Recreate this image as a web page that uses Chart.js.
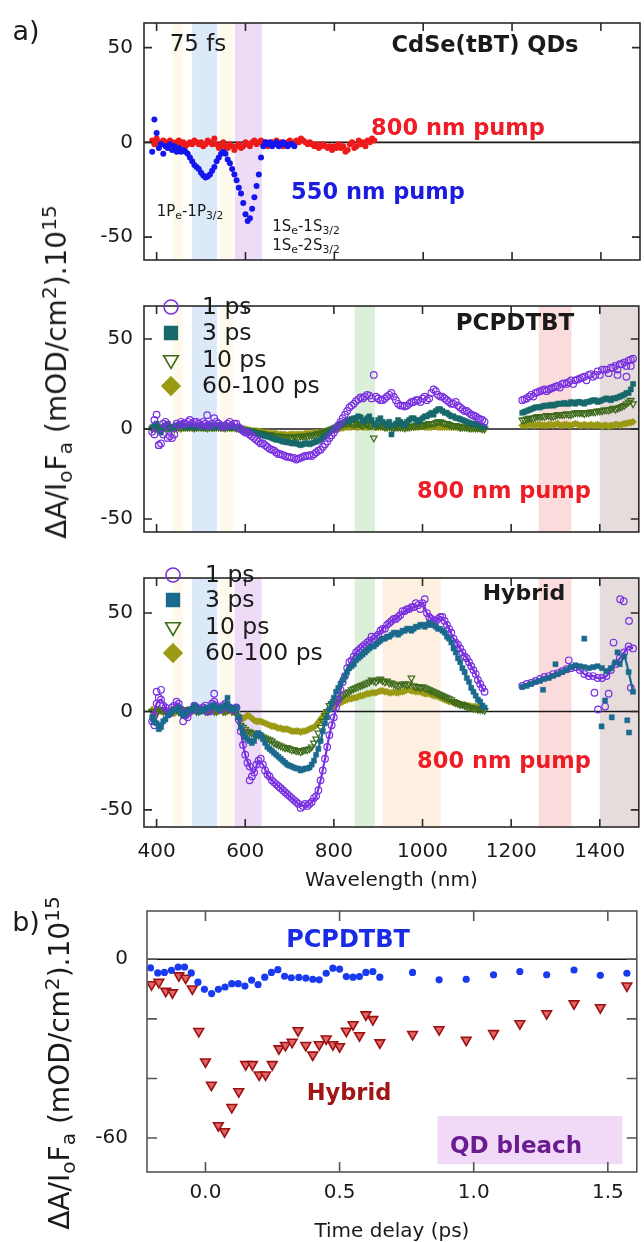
<!DOCTYPE html>
<html><head><meta charset="utf-8">
<script src="https://cdn.jsdelivr.net/npm/chart.js@4.4.1/dist/chart.umd.min.js"></script>
<style>
html,body{margin:0;padding:0;background:#fff;}
#wrap{position:relative;width:644px;height:1242px;overflow:hidden;background:#fff;font-family:'DejaVu Sans',sans-serif;color:#1a1a1a}
canvas{position:absolute;left:0}
.t{position:absolute;transform:translate(-50%,-50%);white-space:nowrap;line-height:1}
.l{position:absolute;transform:translate(0,-50%);white-space:nowrap;line-height:1;font-size:23.5px}
.b{font-weight:bold}
.yt{position:absolute;transform:translate(-50%,-50%) rotate(-90deg);white-space:nowrap;line-height:1;font-size:28px}
sub,sup{font-size:72%;line-height:0;position:relative;vertical-align:baseline}
sub{top:0.3em} sup{top:-0.5em}
.red{color:#ee1c24}.blue{color:#1c1ce0}
</style></head><body>
<div id="wrap">
<canvas id="c1" width="644" height="283" style="top:0"></canvas>
<canvas id="c2" width="644" height="272" style="top:283px"></canvas>
<canvas id="c3" width="644" height="336" style="top:555px"></canvas>
<canvas id="c4" width="644" height="362" style="top:880px"></canvas>

<div class="t" style="left:26px;top:30px;font-size:27px">a)</div>
<div class="t" style="left:26px;top:921px;font-size:27px">b)</div>
<div class="yt" style="left:57px;top:372px">ΔA/I<sub>o</sub>F<sub>a</sub> (mOD/cm<sup>2</sup>).10<sup>15</sup></div>
<div class="yt" style="left:60px;top:1063px">ΔA/I<sub>o</sub>F<sub>a</sub> (mOD/cm<sup>2</sup>).10<sup>15</sup></div>

<div class="t" style="left:198px;top:43px;font-size:23px">75 fs</div>
<div class="t b" style="left:485px;top:44px;font-size:22.5px">CdSe(tBT) QDs</div>
<div class="t b red" style="left:458px;top:127px;font-size:22.5px">800 nm pump</div>
<div class="t b blue" style="left:378px;top:191px;font-size:22.5px">550 nm pump</div>
<div class="t" style="left:190px;top:211px;font-size:15px">1P<sub>e</sub>-1P<sub>3/2</sub></div>
<div class="t" style="left:306px;top:226px;font-size:15px">1S<sub>e</sub>-1S<sub>3/2</sub></div>
<div class="t" style="left:306px;top:245px;font-size:15px">1S<sub>e</sub>-2S<sub>3/2</sub></div>

<div class="t b" style="left:515px;top:322px;font-size:23px">PCPDTBT</div>
<div class="t b red" style="left:504px;top:490px;font-size:22.5px">800 nm pump</div>
<div class="l" style="left:202px;top:307px">1 ps</div>
<div class="l" style="left:202px;top:333px">3 ps</div>
<div class="l" style="left:202px;top:360px">10 ps</div>
<div class="l" style="left:202px;top:386px">60-100 ps</div>

<div class="t b" style="left:524px;top:593px;font-size:22px">Hybrid</div>
<div class="t b red" style="left:504px;top:760px;font-size:22.5px">800 nm pump</div>
<div class="l" style="left:205px;top:575px">1 ps</div>
<div class="l" style="left:205px;top:600px">3 ps</div>
<div class="l" style="left:205px;top:627px">10 ps</div>
<div class="l" style="left:205px;top:653px">60-100 ps</div>

<div class="t b" style="left:348px;top:939px;font-size:24px;color:#1a2be6">PCPDTBT</div>
<div class="t b" style="left:349px;top:1092px;font-size:22.5px;color:#a01515">Hybrid</div>
<div class="t b" style="left:516px;top:1145px;font-size:23px;color:#6a1b8f">QD bleach</div>
</div>
<script>
// ---------------- DATA ----------------
const WL_TICKS = [400, 600, 800, 1000, 1200, 1400];
const A_Y_TICKS = [-50, 0, 50];
const T_TICKS = [0, 0.5, 1.0, 1.5];
const B_Y_TICKS = [-60, -40, -20, 0];

// shaded wavelength bands (nm)
const BAND_CREAM1 = [436, 460];
const BAND_CREAM2 = [543, 572];
const BAND_BLUE = [480, 536];
const BAND_PURPLE = [576, 637];
const BAND_GREEN = [847, 893];
const BAND_ORANGE = [910, 1041];
const BAND_RED = [1262, 1336];
const BAND_BROWN = [1400, 1500];
// QD bleach box (time ps, value)
const QD_BOX_T = [0.865, 1.554];
const QD_BOX_V = [-68.8, -52.6];

// Top panel: CdSe(tBT) QDs, 75 fs
const QD550_WL = [390,395,400,405,410,415,420,425,430,435,440,445,450,455,460,465,470,475,480,485,490,495,500,505,510,515,520,525,530,535,540,545,550,555,560,565,570,575,580,585,590,595,600,605,610,615,620,625,630,635,640,645,650,655,660,665,670,675,680,685,690,695,700,705,710];
const QD550 = [-5,12,5,-3,-1,-6,-2,-3,-1,-4,
  -2,-5,-3,-5,-4,-5,-6,-8,-10,-12,
  -13,-14,-16,-17.5,-18.5,-18,-17,-15,-13,-10,
  -8,-6,-5,-6,-9,-11,-14,-17,-20,-24,
  -27,-32,-38,-41.5,-40,-35,-29,-23,-17,-8,
  -2,0,-1,0,-2,-1,0,-2,-1,0,
  -1,-2,-1,-1,-2];
const QD800_WL = [390,395,400,405,410,415,420,425,430,435,440,445,450,455,460,465,470,475,480,485,490,495,500,505,510,515,520,525,530,535,540,545,550,555,560,565,570,575,580,585,590,595,600,605,610,615,620,625,630,635,640,645,650,655,660,665,670,675,680,685,690,695,700,705,710,715,720,725,730,735,740,745,750,755,760,765,770,775,780,785,790,795,800,805,810,815,820,825,830,835,840,845,850,855,860,865,870,875,880,885,890];
const QD800 = [1,-1,2,0,-1,1,0,-2,1,0,
  -1,0,1,-1,0,-2,-1,0,-1,1,
  0,-1,0,-2,-1,1,0,-1,2,-1,
  -3,-2,0,-2,-3,-1,-2,-4,-2,-1,
  -3,-2,0,-1,-2,0,1,-1,0,1,
  -1,0,-2,-1,0,-1,1,-1,0,-2,
  -1,0,1,-1,0,1,0,2,1,0,
  -1,0,-1,-2,-1,-3,-2,-1,-2,-3,
  -2,-4,-2,-3,-1,-3,-2,-5,-4,-1,
  0,-3,-2,1,-1,0,-2,1,0,2,
  1];

// Wavelength grids for PCPDTBT / Hybrid
const WL_VIS = [390,400,410,420,430,440,450,460,470,480,490,500,510,520,530,540,550,560,570,580,590,600,610,620,630,640,650,660,670,680,690,700,710,720,730,740,750,760,770,780,790,800,810,820,830,840,850,860,870,880,890,900,910,920,930,940,950,960,970,980,990,1000,1010,1020,1030,1040,1050,1060,1070,1080,1090,1100,1110,1120,1130,1140];
const WL_VIS2 = [395,405,415,425,435,445,455,465,475,485,495,505,515,525,535,545,555,565,575,585,595,605,615,625,635,645,655,665,675,685,695,705,715,725,735,745,755,765,775,785,795,805,815,825,835,845,855,865,875,885,895,905,915,925,935,945,955,965,975,985,995,1005,1015,1025,1035,1045,1055,1065,1075,1085,1095,1105,1115,1125,1135];
const WL_IR = [1225,1235,1245,1255,1265,1275,1285,1295,1305,1315,1325,1335,1345,1355,1365,1375,1385,1395,1405,1415,1425,1435,1445,1455,1465,1475];
const WL_IR2 = [1230,1240,1250,1260,1270,1280,1290,1300,1310,1320,1330,1340,1350,1360,1370,1380,1390,1400,1410,1420,1430,1440,1450,1460,1470];

// PCPDTBT, 800 nm pump
const PC_1PS_VIS = [-1.5,8,-8,4,-4,-3,2,3,4,3, 4,2,3,2,6,3,1,3,2,3, 0,-2,-3,-5,-7,-8,-10,-11.5,-13,-14, -15,-15.5,-16,-16.5,-15.5,-15,-15,-13,-11.5,-8.5, -5,-2,2,6,10,13,15.5,17.5,18,18.5, 30,17,16,18,20,16,13,12.5,14,15, 16,17,16,20,21,18,17,15,14,13, 11,10,8,7,5.5,4];
const PC_1PS_VIS2 = [5,-9,-3,2,-5,3,4,3,5,4, 3,4,2,3,4,2,2,4,3,1, -1,-2,-4,-6,-8,-9,-11,-12,-14,-14.5, -15.5,-16,-17,-16,-15,-14.5,-14,-12,-10,-7, -3.5,0,4,8,12,14,16.5,17,19,17, 18,16,17,19,18,14,13,13,15,16, 15,18,17,22,19,18,16,14,15,12, 10,9,7.5,6,5];
const PC_1PS_IR = [16,17,19,20,21,22,22,23,24,25,25,27,27,28,29,30,29,32,33,33,34,35,36,37,38,39];
const PC_1PS_IR2 = [16.5,18,18,20.5,21.5,21,22.5,23.5,23,25.5,26,25,27.5,28.5,27,30.5,30,30,33,31,34,33,36,35,38.5];
const PC_1PS_XW = [395,405,415,425,514,1440,1460,1470];
const PC_1PS_XV = [-3,-9,3,-5,7.7,30,29,35];
const PC_3PS_VIS = [1,3,-2,2,0,1,2,2,1,2, 1,2,1,2,1,2,1,1,2,1, 0,-1,-1.5,-2,-3,-3.5,-4,-5,-6,-6.5, -7,-7.5,-8,-8.5,-8.5,-8,-8,-7,-6,-4, -2,0,2,3.5,5,5.5,6,6.5,5,7, 3,5,4,2,-3,3,4,2,5,6, 4,6,7,9,10,11,9,8,7,6, 5,4,3,2.5,2,1];
const PC_3PS_VIS2 = [2,0,1,3,1,2,3,1,2,1, 2,1,2,1,2,1,2,1,1,0.5, -0.5,-1,-2,-2.5,-3,-4,-4.5,-5.5,-6,-7, -7.5,-8,-8,-9,-8,-8.5,-7.5,-6.5,-5,-3, -1,1,3,4,4.5,6,7,4,6,5, 2,6,3,4,2,5,3,4,6,5, 5,7,8,8,11,10,9,7,6,5.5, 4.5,3.5,3,2,1.5];
const PC_3PS_IR = [9,10,11,12,12,13,13,13,14,14,14,15,14,15,14,15,16,15,16,17,16,17,18,19,20,25];
const PC_3PS_IR2 = [9.5,10.5,11.5,12,12.5,13,13.5,13.5,14,14.5,14,14.5,15,14.5,15,15.5,16,15.5,16.5,16.5,17,17.5,18.5,20,22];
const PC_10PS_VIS = [0,1,0,1,1,0,1,1,1,1, 1,1,1,1,1,1,1,1,1,0.5, 0,-0.5,-1,-1.5,-2,-2.5,-3,-3.5,-4,-4, -4.5,-4.5,-4.5,-4.5,-4,-4,-3.5,-3,-2.5,-1.5, -0.5,0.5,1.5,2.5,3,3,3,2.5,3,2, -5,2,1.5,1,1,1,1,0.5,1,1.5, 2,2,2.5,3,3.5,4,3,2.5,2,1.5, 1,1,0.5,0.5,0.5,0];
const PC_10PS_VIS2 = [0.5,0,1,0.5,1,1,0.5,1,1,0.5, 1,1,0.5,1,1,1,0.5,1,1,0.5, -0.5,-1,-1,-2,-2.5,-3,-3,-4,-4,-4.5, -4.5,-5,-4.5,-4,-4,-3.5,-3.5,-2.5,-2,-1, 0,1,2,3,3.5,2.5,3,2,2.5,2, 1.5,2,1,1.5,0.5,1,1,1,1.5,2, 2,2.5,3,3,4,3.5,3,2,2,1, 1,0.5,0.5,0.5,0];
const PC_10PS_IR = [5,5.5,6,6.5,7,7,7.5,7,8,8,8.5,8,9,9,8.5,9,9.5,10,10,10.5,11,11,12,13,15,14];
const PC_10PS_IR2 = [5,6,6,7,7,7.5,7,7.5,8,8,8,8.5,9,9,9,9.5,9.5,10,10.5,10.5,11.5,11.5,12.5,14,16];
const PC_60PS_VIS = [0.5,1,0,1,0.5,1,0.5,1,0.5,1, 0.5,1,0.5,1,0.5,1,0.5,1,0.5,0.5, 0,0,-0.5,-1,-1.5,-2,-2,-2.5,-2.5,-3, -3,-3,-3,-3,-3,-2.5,-2.5,-2,-2,-1.5, -1,-0.5,0,0.5,1,1,1,1.5,1,1, 1,1,1,1.5,1,1,1,1,1.5,1, 1,1.5,1,1,1.5,1,1,1,1,1, 1,0.5,1,0.5,0.5,0.5];
const PC_60PS_VIS2 = [0,1,0.5,0,1,0.5,1,0.5,1,0.5, 1,0.5,1,0.5,1,0.5,1,0.5,1,0, 0,-0.5,-1,-1,-1.5,-2,-2.5,-2.5,-3,-3, -3.5,-3,-3,-3,-2.5,-2.5,-2,-2,-1.5,-1, -0.5,0,0.5,1,1,1.5,1,1,1,1.5, 1,1,1.5,1,1,1,1.5,1,1,1, 1.5,1,1,1.5,1,1,1,1,1,0.5, 1,1,0.5,0.5,0.5];
const PC_60PS_IR = [2,2,2.5,2,2.5,2,2.5,2,3,2,2.5,2,3,2,2.5,2,2,2.5,1.5,2,2,2.5,2,3,3.5,4];
const PC_60PS_IR2 = [2,2.5,2,2.5,2,2,2.5,2.5,2,2.5,2,2.5,2.5,2,2,2.5,2,2,2,1.5,2,2.5,2.5,3,3.5];

// Hybrid, 800 nm pump
const HY_1PS_VIS = [-5,4,6,2,-1,3,4,-1,-3,1, 2,1,3,0,5,2,3,2,1,2, -10,-22,-28,-31,-25,-27,-32,-35,-37,-39, -41,-43,-45,-47,-48,-48,-46,-43,-35,-24, -12,-3,6,15,22,26,30,32,34,36, 37,39,42,44,46,47,49,51,52,53, 54,55,50,47,46,48,46,42,37,34, 30,27,23,19,14,10];
const HY_1PS_VIS2 = [-2,7,3,0,2,5,1,-2,0,3, 1,2,0,4,3,1,4,2,1,-4, -17,-26,-33,-27,-24,-30,-33,-36,-38,-40, -42,-44,-46,-49,-47,-47,-44,-40,-30,-18, -7,2,11,18,25,28,31,33,35,38, 38,41,42,45,47,48,51,52,53,55, 52,57,48,46,47,48,44,40,35,32, 28,25,21,16,12];
const HY_1PS_IR = [13,14,14.5,15.5,16.5,17.5,18,19,19.5,20.5,21.5,22,22.5,21,19,18,18,17,17,18,21,24,27,30,33,32];
const HY_1PS_XW = [395,400,410,460,530,610,1330,1388,1396,1412,1420,1431,1446,1454,1466,1470];
const HY_1PS_XV = [-7,10,11,-5,9,-35,26,9.5,1,2.5,9,35,57,56,46,12];
const HY_3PS_VIS = [-3,-6,-8,-4,-1,1,2,-2,0,1, 2,0,1,2,3,1,2,4,1,2, -8,-13,-15,-15,-11,-14,-18,-20,-22,-24, -26,-27.5,-28.5,-29,-29.5,-29,-27,-22,-15,-6, 1,7,12,16,20,23,26,28,30,32, 33,35,37,38,39,40,40,41,42,42, 43,44,44,44,43,42,40,37,32,27, 22,17,12,8,5,2];
const HY_3PS_VIS2 = [-5,-7,-5,-2,0,1,-1,-1,1,3, 0,1,2,3,2,2,3,2,1,-3, -11,-14,-16,-12,-12,-16,-19,-21,-23,-25, -27,-28,-29,-30,-29,-28.5,-25,-19,-10,-3, 4,10,14,18,22,24,27,29,31,33, 34,36,37,38,40,39,41,42,41,43, 44,43,45,44,42,41,38,35,30,25, 20,15,10,6,3];
const HY_3PS_IR = [12.5,13,14,15,15.5,16.5,17,18,19,20,21,22.5,23.5,23,22.5,22,22.5,23,22,20.5,22,25,24,28,20,10];
const HY_3PS_XW = [392,405,560,1272,1300,1365,1404,1412,1427,1440,1462,1466];
const HY_3PS_XV = [-4,-9,7,11,24,37,-7.6,5.6,-3,30,-4.5,-10.7];
const HY_10PS_VIS = [0,-1,1,0,-1,1,0,1,0,1, 0,1,0,1,0,1,0,1,0,1, -7,-9,-10.5,-11.5,-12,-13,-14,-15,-16.5,-17.5, -18.5,-19,-19.5,-20,-20,-19.5,-18,-14,-8,-2, 3,5,6.5,8,9.5,11,12,13,14,15, 15.5,16,15.5,15.5,14.5,13.5,13.5,14,14,13, 12.5,12.5,11.5,10.5,9.5,8.5,7.5,6.5,5,4, 3.5,2.5,2,1.5,1,0.5];
const HY_10PS_VIS2 = [0,1,0,-1,0,1,0,1,0,1, 0,1,0,1,0,1,0,1,0,-3, -8,-10,-11,-12,-12.5,-13.5,-14.5,-16,-17,-18, -18.5,-19.5,-20,-20.5,-19.5,-19,-16,-11,-5,0, 4,6,7,9,10,11.5,12.5,13.5,14.5,16, 15,16.5,15,14.5,14,13,14,13.5,17,12.5, 12,12,11,10,9,8,7,6,4.5,3.5, 3,2,1.5,1,1];
const HY_60PS_VIS = [1,-1,0,1,0,-1,1,0,1,0, 1,0,1,0,1,0,1,0,1,0, -4,-3,-2.5,-4.5,-5,-5.5,-6.5,-7.5,-8,-8.5, -9,-9.5,-10,-10,-10,-9.5,-8.5,-7,-4,-1, 1.5,2.5,4,5,6,6.5,7,8,8.5,9, 9.5,10,10.5,10,9.5,9.5,10,10.5,11,10.5, 10,9.5,9,8.5,8,7,6,5,4.5,4, 3.5,3,2.5,2.5,2,1.5];
const HY_60PS_VIS2 = [0,1,0,-1,1,0,1,0,-1,1, 0,1,0,1,0,1,0,1,0,-2, -3.5,-2,-3.5,-5,-5,-6,-7,-7.5,-8.5,-9, -9,-10,-10,-10.5,-10,-9,-8,-5.5,-2.5,0, 2,3.5,4.5,5.5,6.5,7,7.5,8,9,9.5, 9.5,10.5,10,9.5,10,9.5,10,11,10.5,10, 10,9,9,8,7.5,6.5,5.5,5,4,3.5, 3.5,3,2.5,2,1.5];

// Panel b: kinetics at QD bleach
const T_PCPDTBT = [-0.205,-0.178,-0.153,-0.127,-0.102,-0.078,-0.053,-0.028,-0.004,0.023,0.048,0.073,0.098,0.122,0.147,0.172,0.196,0.221,0.246,0.27,0.295,0.32,0.348,0.374,0.4,0.424,0.45,0.475,0.5,0.525,0.55,0.574,0.598,0.624,0.65,0.772,0.871,0.972,1.074,1.172,1.272,1.374,1.472,1.571];
const V_PCPDTBT = [-2.9,-4.6,-4.4,-3.7,-2.6,-2.6,-4.6,-7.7,-10.1,-11.5,-10.1,-9.3,-8.2,-8.2,-9,-7,-8.5,-6,-4.4,-3.5,-5.7,-6.2,-6.1,-6.3,-6.7,-6.9,-4.7,-3,-3.3,-5.8,-6,-5.8,-4.4,-4.1,-6,-4.4,-6.9,-6.7,-5.2,-4.1,-5.2,-3.6,-5.4,-4.7];
const T_HYBRID = [-0.201,-0.174,-0.148,-0.123,-0.099,-0.074,-0.049,-0.025,0.0,0.022,0.048,0.071,0.098,0.124,0.150,0.175,0.2,0.224,0.249,0.274,0.298,0.323,0.345,0.374,0.4,0.424,0.45,0.475,0.5,0.525,0.55,0.574,0.598,0.624,0.65,0.772,0.871,0.972,1.074,1.172,1.272,1.374,1.472,1.571];
const V_HYBRID = [-8.5,-7.7,-10.7,-11.2,-5.5,-6.3,-9.9,-24.2,-34.4,-42.2,-55.8,-57.8,-49.7,-44.4,-35.3,-35.3,-38.8,-38.8,-35.3,-30,-28.9,-27.8,-23.9,-28.9,-32.1,-28.6,-26.7,-28.6,-29.3,-24.1,-21.9,-25.6,-18.6,-20.2,-28,-25.2,-23.6,-27.1,-24.9,-21.6,-18.2,-14.9,-16.2,-8.9];

// ---------------- STYLE / HELPERS ----------------
const FONT = "'DejaVu Sans', sans-serif";
Chart.defaults.font.family = FONT;
Chart.defaults.color = '#1a1a1a';
const PURPLE = '#7a30e0', TEAL2 = '#17696b', TEAL3 = '#1b6a8e', GREEN = '#3d6a1b', OLIVE = '#9a9a14';
const C_CREAM = '#fdfaeb', C_BLUE = '#dce9f9', C_PURPLE = '#eedcf7', C_GREEN = '#dcefdb', C_ORANGE = '#fdf0e1', C_RED = '#fbdcdc', C_BROWN = '#e7dcdc';

function pts(xs, ys){ return xs.map((x,i)=>({x:x, y:ys[i]})); }
function joinGap(a, b){ return a.concat([{x:(a[a.length-1].x + b[0].x)/2, y:null}], b); }

function drawMarker(ctx, style, x, y, r, color, fill, lw){
  ctx.beginPath();
  if(style==='circle') ctx.arc(x,y,r,0,Math.PI*2);
  else if(style==='rect'){ const s=r*Math.SQRT1_2; ctx.rect(x-s,y-s,2*s,2*s); }
  else if(style==='tri'){ ctx.moveTo(x-r*0.866,y-r*0.5); ctx.lineTo(x+r*0.866,y-r*0.5); ctx.lineTo(x,y+r); ctx.closePath(); }
  else if(style==='diamond'){ ctx.moveTo(x,y-r); ctx.lineTo(x+r,y); ctx.lineTo(x,y+r); ctx.lineTo(x-r,y); ctx.closePath(); }
  if(fill){ ctx.fillStyle=color; ctx.fill(); }
  ctx.strokeStyle=color; ctx.lineWidth=lw; ctx.stroke();
}

function makeFrame(cfg){
  return {
    id: 'frame_' + cfg.name,
    beforeDatasetsDraw(chart){
      const {ctx, chartArea:a} = chart; const x = chart.scales.x, y = chart.scales.y;
      ctx.save();
      (cfg.bands||[]).forEach(b=>{
        const x0 = Math.max(a.left, x.getPixelForValue(b[0][0]));
        const x1 = Math.min(a.right, x.getPixelForValue(b[0][1]));
        ctx.fillStyle = b[1]; ctx.fillRect(x0, a.top, x1-x0, a.bottom-a.top);
      });
      (cfg.boxes||[]).forEach(b=>{
        const x0 = x.getPixelForValue(b[0][0]), x1 = x.getPixelForValue(b[0][1]);
        const y0 = y.getPixelForValue(b[1][1]), y1 = y.getPixelForValue(b[1][0]);
        ctx.fillStyle = b[2]; ctx.fillRect(x0, y0, x1-x0, y1-y0);
      });
      const yz = y.getPixelForValue(0);
      ctx.strokeStyle = '#1a1a1a'; ctx.lineWidth = 1.6;
      ctx.beginPath(); ctx.moveTo(a.left, yz); ctx.lineTo(a.right, yz); ctx.stroke();
      ctx.restore();
    },
    afterDatasetsDraw(chart){
      const {ctx, chartArea:a} = chart; const x = chart.scales.x, y = chart.scales.y;
      ctx.save();
      ctx.strokeStyle = cfg.frameColor || '#2a2a2a'; ctx.lineWidth = 1.6;
      ctx.strokeRect(a.left, a.top, a.right-a.left, a.bottom-a.top);
      const L = cfg.tickLen;
      ctx.beginPath();
      cfg.xticks.forEach(v=>{ const p = x.getPixelForValue(v);
        ctx.moveTo(p, a.top); ctx.lineTo(p, a.top+L); ctx.moveTo(p, a.bottom); ctx.lineTo(p, a.bottom-L); });
      cfg.yticks.forEach(v=>{ const p = y.getPixelForValue(v);
        ctx.moveTo(a.left, p); ctx.lineTo(a.left+L, p); ctx.moveTo(a.right, p); ctx.lineTo(a.right-L, p); });
      ctx.stroke();
      (cfg.legend||[]).forEach(it=>{ drawMarker(ctx, it.style, it.x, it.y, it.r, it.color, it.fill, 1.6); });
      ctx.restore();
    }
  };
}

function baseOptions(o){
  const xs = {type:'linear', min:o.xmin, max:o.xmax, display:!!o.showX, bounds:'data',
    grid:{display:false, drawTicks:false}, border:{display:false},
    ticks:{padding:o.xPad||0, font:{size:20}, color:'#1a1a1a', maxRotation:0, autoSkip:false, callback:o.xfmt},
    title:{display:!!o.xtitle, text:o.xtitle||'', font:{size:20, lineHeight:1}, padding:{top:0,bottom:0}, color:'#1a1a1a'},
    afterBuildTicks:s=>{ s.ticks = o.xticks.map(v=>({value:v})); }};
  if(o.xH) xs.afterFit = s=>{ s.height = o.xH; };
  return {
    responsive:false, animation:false, events:[],
    layout:{padding:{top:o.padTop||0, right:o.padRight||0, left:0, bottom:0}},
    plugins:{legend:{display:false}, tooltip:{enabled:false}},
    scales:{
      x: xs,
      y:{type:'linear', min:o.ymin, max:o.ymax, bounds:'data',
        grid:{display:false, drawTicks:false}, border:{display:false},
        ticks:{padding:o.yPad, font:{size:20}, color:'#1a1a1a', autoSkip:false, callback:o.yfmt},
        afterBuildTicks:s=>{ s.ticks = o.yticks.map(v=>({value:v})); },
        afterFit:s=>{ s.width = o.yW; }}
    }
  };
}
const fmtInt = v => String(v);

function sc(label, data, style, color, extra){
  const base = {label:label, data:data, showLine:false, pointRadius:3.3, pointBorderWidth:1.2, borderColor:color, backgroundColor:color};
  if(style==='open') Object.assign(base, {pointStyle:'circle', backgroundColor:'rgba(0,0,0,0)'});
  if(style==='dot') Object.assign(base, {pointStyle:'circle', pointRadius:3, pointBorderWidth:0});
  if(style==='rect') Object.assign(base, {pointStyle:'rect', pointRadius:3.6, pointBorderWidth:0.5});
  if(style==='tri') Object.assign(base, {pointStyle:'triangle', pointRotation:180, pointRadius:3.8, backgroundColor:'rgba(0,0,0,0)'});
  if(style==='diamond') Object.assign(base, {pointStyle:'rectRot', pointRadius:3.6, pointBorderWidth:0.5});
  return Object.assign(base, extra||{});
}
function cat(){ return [].concat.apply([], arguments); }

const X_A = {xmin:371.6, xmax:1488, xticks:WL_TICKS, yticks:A_Y_TICKS, yW:144, yPad:11, padRight:1, xfmt:fmtInt, yfmt:fmtInt};

// ---------------- CHART 1: QDs ----------------
new Chart(document.getElementById('c1'), {
  type:'scatter',
  data:{datasets:[
    sc('550 nm pump', pts(QD550_WL, QD550), 'dot', '#1515ee'),
    sc('800 nm pump', pts(QD800_WL, QD800), 'dot', '#ee1a1a')
  ]},
  options: baseOptions(Object.assign({}, X_A, {ymin:-62.1, ymax:63.0, padTop:14})),
  plugins:[makeFrame({name:'c1', tickLen:8, xticks:WL_TICKS, yticks:A_Y_TICKS,
    bands:[[BAND_CREAM1,C_CREAM],[BAND_CREAM2,C_CREAM],[BAND_BLUE,C_BLUE],[BAND_PURPLE,C_PURPLE]]})]
});

// ---------------- CHART 2: PCPDTBT ----------------
new Chart(document.getElementById('c2'), {
  type:'scatter',
  data:{datasets:[
    sc('1 ps', cat(pts(WL_VIS, PC_1PS_VIS), pts(WL_VIS2, PC_1PS_VIS2), pts(WL_IR, PC_1PS_IR), pts(WL_IR2, PC_1PS_IR2), pts(PC_1PS_XW, PC_1PS_XV)), 'open', PURPLE),
    sc('3 ps', cat(pts(WL_VIS, PC_3PS_VIS), pts(WL_VIS2, PC_3PS_VIS2), pts(WL_IR, PC_3PS_IR), pts(WL_IR2, PC_3PS_IR2)), 'rect', TEAL2),
    sc('10 ps', cat(pts(WL_VIS, PC_10PS_VIS), pts(WL_VIS2, PC_10PS_VIS2), pts(WL_IR, PC_10PS_IR), pts(WL_IR2, PC_10PS_IR2)), 'tri', GREEN),
    sc('60-100 ps', cat(pts(WL_VIS, PC_60PS_VIS), pts(WL_VIS2, PC_60PS_VIS2), pts(WL_IR, PC_60PS_IR), pts(WL_IR2, PC_60PS_IR2)), 'diamond', OLIVE)
  ]},
  options: baseOptions(Object.assign({}, X_A, {ymin:-57.2, ymax:68.3})),
  plugins:[makeFrame({name:'c2', tickLen:8, xticks:WL_TICKS, yticks:A_Y_TICKS,
    bands:[[BAND_CREAM1,C_CREAM],[BAND_CREAM2,C_CREAM],[BAND_BLUE,C_BLUE],[BAND_GREEN,C_GREEN],[BAND_RED,C_RED],[BAND_BROWN,C_BROWN]],
    legend:[{style:'circle',x:171,y:24,r:7,color:PURPLE,fill:false},{style:'rect',x:171,y:50,r:9,color:TEAL2,fill:true},
            {style:'tri',x:171,y:77,r:8.5,color:GREEN,fill:false},{style:'diamond',x:171,y:103,r:9,color:OLIVE,fill:true}]})]
});

// ---------------- CHART 3: Hybrid ----------------
const lineOpt = {showLine:true, borderWidth:2.2, tension:0.25, spanGaps:false};
new Chart(document.getElementById('c3'), {
  type:'scatter',
  data:{datasets:[
    sc('3 ps', joinGap(pts(WL_VIS, HY_3PS_VIS), pts(WL_IR, HY_3PS_IR)), 'rect', TEAL3, lineOpt),
    sc('3 ps pts', cat(pts(WL_VIS2, HY_3PS_VIS2), pts(HY_3PS_XW, HY_3PS_XV)), 'rect', TEAL3),
    sc('1 ps', joinGap(pts(WL_VIS, HY_1PS_VIS), pts(WL_IR, HY_1PS_IR)), 'open', PURPLE, lineOpt),
    sc('1 ps pts', cat(pts(WL_VIS2, HY_1PS_VIS2), pts(HY_1PS_XW, HY_1PS_XV)), 'open', PURPLE),
    sc('10 ps', cat(pts(WL_VIS, HY_10PS_VIS), pts(WL_VIS2, HY_10PS_VIS2)), 'tri', GREEN),
    sc('60-100 ps', cat(pts(WL_VIS, HY_60PS_VIS), pts(WL_VIS2, HY_60PS_VIS2)), 'diamond', OLIVE)
  ]},
  options: baseOptions(Object.assign({}, X_A, {ymin:-58.7, ymax:67.8, showX:true, xH:64, xPad:13, xtitle:'Wavelength (nm)'})),
  plugins:[makeFrame({name:'c3', tickLen:8, xticks:WL_TICKS, yticks:A_Y_TICKS,
    bands:[[BAND_CREAM1,C_CREAM],[BAND_CREAM2,C_CREAM],[BAND_BLUE,C_BLUE],[BAND_PURPLE,C_PURPLE],[BAND_GREEN,C_GREEN],[BAND_ORANGE,C_ORANGE],[BAND_RED,C_RED],[BAND_BROWN,C_BROWN]],
    legend:[{style:'circle',x:173,y:20,r:7,color:PURPLE,fill:false},{style:'rect',x:173,y:45,r:9,color:TEAL3,fill:true},
            {style:'tri',x:173,y:72,r:8.5,color:GREEN,fill:false},{style:'diamond',x:173,y:98,r:9,color:OLIVE,fill:true}]})]
});

// ---------------- CHART 4: kinetics ----------------
new Chart(document.getElementById('c4'), {
  type:'scatter',
  data:{datasets:[
    sc('PCPDTBT', pts(T_PCPDTBT, V_PCPDTBT), 'dot', '#1a3af0', {pointRadius:3.6}),
    sc('Hybrid', pts(T_HYBRID, V_HYBRID), 'tri', '#9c1212', {pointRadius:5.6, pointBorderWidth:1.6, backgroundColor:'#e26464'})
  ]},
  options: baseOptions({xmin:-0.218, xmax:1.608, ymin:-71.4, ymax:16.2, xticks:T_TICKS, yticks:B_Y_TICKS,
    yW:147, yPad:19, padRight:2, padTop:27, showX:true, xH:70, xPad:9, xtitle:'Time delay (ps)',
    xfmt: v => v.toFixed(1), yfmt: v => (v===0 || v===-60) ? String(v) : ''}),
  plugins:[makeFrame({name:'c4', tickLen:10, xticks:T_TICKS, yticks:B_Y_TICKS, frameColor:'#555',
    boxes:[[QD_BOX_T, QD_BOX_V, '#f1d9f8']]})]
});
</script>
</body></html>
